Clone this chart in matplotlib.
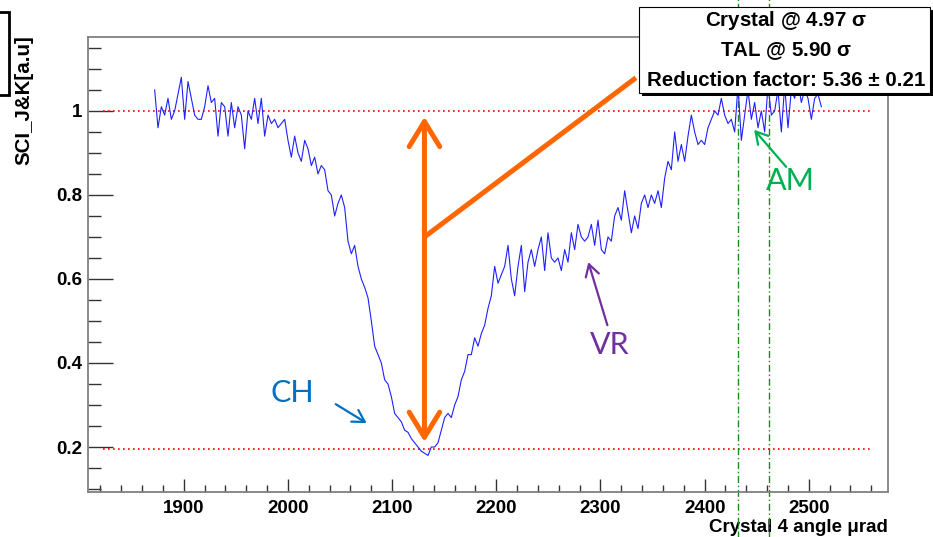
import numpy as np
import matplotlib.pyplot as plt
from matplotlib.patches import Rectangle

plt.rcParams['font.family'] = ['Liberation Sans', 'DejaVu Sans']
plt.rcParams['mathtext.default'] = 'regular'

# Señal SCI_J&K normalizada, paso constante en el ángulo del cristal
sci_jk = [
    1.05, 0.96, 1.01, 0.99, 1.03, 0.98, 1.00, 1.04, 1.08, 0.98,
    1.07, 1.03, 0.99, 0.98, 0.98, 1.01, 1.06, 1.02, 1.03, 0.94,
    1.02, 1.01, 0.94, 1.02, 0.96, 1.01, 0.99, 0.91, 1.00, 0.98,
    1.03, 0.97, 1.03, 0.94, 0.99, 0.97, 0.98, 0.96, 0.97, 0.98,
    0.93, 0.89, 0.94, 0.90, 0.88, 0.93, 0.91, 0.87, 0.89, 0.85,
    0.87, 0.86, 0.81, 0.80, 0.75, 0.78, 0.80, 0.77, 0.69, 0.66,
    0.68, 0.63, 0.60, 0.58, 0.555, 0.50, 0.44, 0.42, 0.40, 0.36,
    0.35, 0.32, 0.28, 0.27, 0.26, 0.24, 0.235, 0.22, 0.21, 0.20,
    0.19, 0.185, 0.18, 0.20, 0.20, 0.21, 0.24, 0.27, 0.28, 0.27,
    0.30, 0.32, 0.36, 0.38, 0.42, 0.42, 0.46, 0.44, 0.47, 0.49,
    0.53, 0.56, 0.63, 0.59, 0.61, 0.63, 0.68, 0.60, 0.56, 0.63,
    0.68, 0.57, 0.64, 0.67, 0.63, 0.67, 0.70, 0.62, 0.71, 0.65,
    0.64, 0.65, 0.62, 0.67, 0.64, 0.71, 0.67, 0.73, 0.70, 0.69,
    0.70, 0.73, 0.68, 0.74, 0.67, 0.66, 0.70, 0.69, 0.75, 0.77,
    0.74, 0.81, 0.76, 0.71, 0.75, 0.72, 0.78, 0.80, 0.77, 0.80,
    0.78, 0.81,
    0.77, 0.84, 0.88, 0.86, 0.95, 0.88, 0.92, 0.88, 0.94, 0.99,
    0.95, 0.92, 0.93, 0.92, 0.96, 0.98, 1.00, 0.99, 1.03, 0.99,
    0.97, 0.98, 0.95, 1.06, 0.93, 0.99, 1.05, 0.98, 1.02, 0.96,
    1.00, 0.95, 1.06, 0.99, 1.00, 1.05, 0.95, 1.06, 0.96, 1.05,
    1.03, 1.07, 1.02, 1.05, 1.03, 0.98, 1.03, 1.04, 1.01,
]
angulo = np.linspace(1872, 2512, len(sci_jk))

nivel_ref = [1.0, 0.195]        # niveles fuera de canalización y mínimo
limites_am = [2432, 2462]       # zona de amorfo
textos_leyenda = ['Crystal @ 4.97 $\\sigma$', 'TAL @ 5.90 $\\sigma$',
                  'Reduction factor: 5.36 \u00b1 0.21']

W, H = 933, 537
fig = plt.figure(figsize=(W / 100, H / 100), dpi=100)
ax = fig.add_axes([88 / W, 1 - 492 / H, 800 / W, 455 / H])
ax.set_xlim(1808, 2576)
ax.set_ylim(0.0929, 1.176)

ax.plot(angulo, sci_jk, color='#2020ff', lw=0.8, zorder=3)
ax.hlines(nivel_ref, 1822, 2561, colors='red', linestyles=(0, (1, 2)), lw=1.2, zorder=2)
for xv in limites_am:
    ax.axvline(xv, ymin=-0.1, ymax=1.09, color='#1a8a1a', ls=(0, (5, 2, 1, 2)),
               lw=1, clip_on=False, zorder=2)

# Flecha naranja (reducción) y su conexión con la caja
naranja = '#ff6600'
ax.annotate('', xy=(2131, 0.986), xytext=(2131, 0.212),
            arrowprops=dict(arrowstyle='<->,head_length=0.9,head_width=0.55', color=naranja,
                            lw=3.6, mutation_scale=20, shrinkA=0, shrinkB=0), zorder=5)
ax.plot([2131, 2334], [0.70, 1.079], color=naranja, lw=3.6, solid_capstyle='butt',
        clip_on=False, zorder=5)

# Etiquetas CH / VR / AM
etiquetas = [('CH', '#0070c0', (2004.5, 0.329), (2045.8, 0.302), (2075.5, 0.257)),
             ('VR', '#7030a0', (2308.5, 0.443), (2306.6, 0.490), (2288.3, 0.640)),
             ('AM', '#00b050', (2482.0, 0.833), (2478.2, 0.867), (2447.5, 0.955))]
for txt, col, pos, ini, fin in etiquetas:
    ax.text(pos[0], pos[1], txt, color=col, fontsize=22, family='Lato',
            ha='center', va='center', zorder=6)
    ax.annotate('', xy=fin, xytext=ini,
                arrowprops=dict(arrowstyle='->,head_length=0.6,head_width=0.35', color=col,
                                lw=1.6, mutation_scale=14, shrinkA=0, shrinkB=0), zorder=6)

# Ejes al estilo ROOT
ax.set_xticks(np.arange(1900, 2501, 100))
ax.set_xticks(np.arange(1820, 2576, 20), minor=True)
ax.set_yticks([0.2, 0.4, 0.6, 0.8, 1.0])
ax.set_yticklabels(['0.2', '0.4', '0.6', '0.8', '1'])
ax.set_yticks(np.arange(0.1, 1.17, 0.05), minor=True)
ax.tick_params(axis='x', which='major', direction='in', length=9.5, width=1, pad=6)
ax.tick_params(axis='x', which='minor', direction='in', length=5, width=1)
ax.tick_params(axis='y', which='major', direction='in', length=18, width=1, pad=4)
ax.tick_params(axis='y', which='minor', direction='in', length=9, width=1)
ax.tick_params(which='both', colors='#333333', top=False, right=False)
for lab in ax.get_xticklabels() + ax.get_yticklabels():
    lab.set_fontsize(13.5)
    lab.set_fontweight('bold')
    lab.set_color('black')
for sp in ax.spines.values():
    sp.set_color('#808080')
    sp.set_linewidth(1.3)

ax.text(1.0, -0.059, 'Crystal 4 angle \u03bcrad', transform=ax.transAxes, ha='right', va='top',
        fontsize=13.5, fontweight='bold', zorder=1, clip_on=False)
ax.text(-0.08, 1.004, 'SCI_J&K[a.u]', transform=ax.transAxes, rotation=90, ha='center',
        va='top', fontsize=14.8, fontweight='bold', zorder=1, clip_on=False)

# Caja de texto con sombra
fig.add_artist(Rectangle((642 / W, 1 - 96 / H), 295 / W, 86 / H, transform=fig.transFigure,
                         facecolor='black', edgecolor='none', zorder=5))
fig.add_artist(Rectangle((639 / W, 1 - 93 / H), 291 / W, 86 / H, transform=fig.transFigure,
                         facecolor='white', edgecolor='black', lw=0.8, zorder=6))
for i, t in enumerate(textos_leyenda):
    fig.text(786 / W, 1 - (21 + 30 * i) / H, t, ha='center', va='center', fontsize=14.8,
             fontweight='bold', zorder=7)

# Resto de la caja del título, recortada en la esquina
fig.add_artist(Rectangle((-20 / W, 1 - 95 / H), 29 / W, 83 / H, transform=fig.transFigure,
                         facecolor='white', edgecolor='black', lw=2, zorder=5))

fig.savefig('out.png', dpi=100)
